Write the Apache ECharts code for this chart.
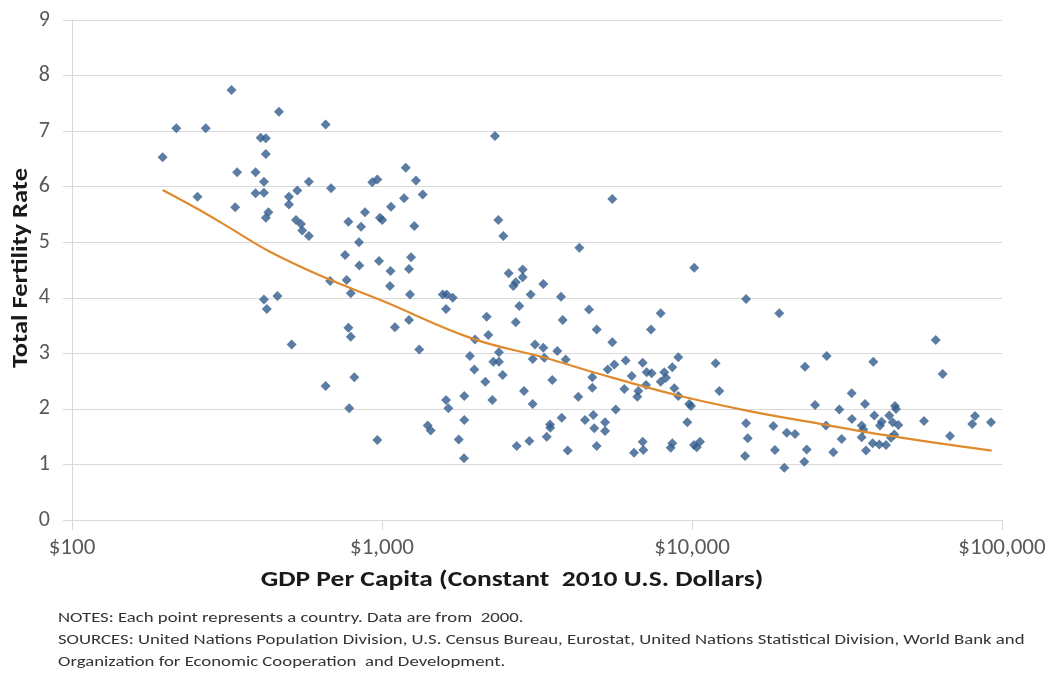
<!DOCTYPE html>
<html>
<head>
<meta charset="utf-8">
<script src="https://cdn.jsdelivr.net/npm/echarts@6/dist/echarts.min.js"></script>
<style>
html,body{margin:0;padding:0;background:#fff;}
#chart{width:1052px;height:673px;}
</style>
</head>
<body>
<div id="chart"></div>
<script>
// [GDP per capita (constant 2010 US$), total fertility rate]
var countries = [
 [327,7.74],[217,7.05],[270,7.05],[465,7.35],[658,7.12],[196,6.53],[406,6.88],[422,6.87],[422,6.59],[341,6.26],
 [391,6.26],[416,6.09],[391,5.88],[416,5.89],[254,5.82],[336,5.63],[581,6.09],[685,5.97],[533,5.93],[501,5.82],
 [501,5.68],[430,5.54],[422,5.44],[528,5.40],[548,5.33],[553,5.21],[581,5.11],[930,6.08],[966,6.13],[1069,5.64],
 [985,5.44],[1002,5.40],[779,5.37],[881,5.54],[856,5.28],[843,5.00],[760,4.77],[978,4.66],[845,4.58],[1065,4.48],
 [680,4.30],[769,4.32],[793,4.08],[1061,4.21],[416,3.97],[460,4.03],[425,3.80],
 [779,3.46],[793,3.30],[511,3.16],[814,2.57],[658,2.41],[784,2.01],[966,1.44],
 [2314,6.91],[1193,6.34],[1287,6.11],[1353,5.86],[1178,5.79],[1271,5.29],[5534,5.78],[2372,5.40],[2462,5.11],[4330,4.90],
 [1241,4.73],[1222,4.52],[1231,4.06],[1570,4.06],[1617,4.06],[1691,4.00],[1609,3.80],[1222,3.60],[1101,3.47],[2176,3.66],
 [2700,3.56],[2563,4.44],[2844,4.51],[2844,4.37],[2700,4.28],[2652,4.21],[3314,4.25],[3018,4.06],[2773,3.85],[3779,4.02],
 [4653,3.79],[3827,3.60],[4927,3.43],
 [1319,3.07],[1995,3.25],[2203,3.33],[5534,3.20],[1922,2.95],[1985,2.71],[2384,3.02],[2286,2.85],[2384,2.85],[2451,2.61],
 [2154,2.49],[2269,2.16],[1843,2.23],[1609,2.16],[1637,2.01],[3116,3.16],[3314,3.10],[3677,3.04],[3063,2.90],[3339,2.92],
 [3913,2.89],[3543,2.52],[2871,2.32],[3063,2.09],[4297,2.22],[4769,2.57],[4769,2.38],[5348,2.71],[5617,2.80],[6111,2.87],
 [6048,2.36],[5675,1.99],[3799,1.84],[4516,1.80],[4804,1.89],[4839,1.65],[5242,1.76],[5242,1.60],[4927,1.33],[3483,1.72],
 [3490,1.66],[3399,1.50],[2987,1.42],[2720,1.33],[3972,1.25],[1404,1.70],[1436,1.61],[1843,1.80],[1768,1.45],[1839,1.11],
 [10170,4.54],[14940,3.98],[19120,3.72],[7925,3.72],[7373,3.43],[6934,2.83],[6391,2.59],[7143,2.66],[7413,2.64],[6712,2.32],
 [6661,2.22],[7105,2.43],[8139,2.66],[8243,2.56],[7925,2.49],[8640,2.75],[9033,2.93],[8768,2.37],[9033,2.23],[9800,2.09],
 [9926,2.05],[11920,2.82],[12250,2.32],[9656,1.76],[6934,1.41],[6965,1.26],[6501,1.21],[8640,1.38],[8537,1.30],[10150,1.35],
 [10360,1.31],[10610,1.41],[14940,1.74],[15130,1.47],[14830,1.15],[18290,1.69],[20210,1.57],[21490,1.55],[18520,1.26],[19850,0.94],
 [23440,1.27],[23030,1.05],[23150,2.76],[24940,2.07],
 [61110,3.24],[64370,2.63],[27190,2.95],[38440,2.85],[32740,2.28],[29870,1.99],[36140,2.09],[32810,1.82],[35270,1.70],[35690,1.63],
 [38730,1.88],[40410,1.70],[40910,1.77],[43290,1.88],[45160,2.05],[45500,2.00],[44390,1.76],[46300,1.71],[27050,1.70],[30400,1.46],
 [35270,1.49],[43850,1.48],[44930,1.54],[38270,1.38],[40200,1.36],[42250,1.35],[28570,1.22],[36410,1.25],[56020,1.78],[67970,1.51],
 [81810,1.87],[80190,1.73],[92150,1.76]
];
// trend line points
var trendGdp = [196,252,316,435,663,998,1970,3314,4804,9033,15020,25880,39430,64650,92650];
var trendTfr = [5.94,5.61,5.29,4.83,4.35,3.95,3.26,2.93,2.66,2.24,1.97,1.73,1.55,1.37,1.25];
var yTicks = [0,1,2,3,4,5,6,7,8,9];
var xTicks = [100,1000,10000,100000];
var xTitle = 'GDP Per Capita (Constant  2010 U.S. Dollars)';
var yTitle = 'Total Fertility Rate';
var notes = [
 'NOTES: Each point represents a country. Data are from  2000.',
 'SOURCES: United Nations Population Division, U.S. Census Bureau, Eurostat, United Nations Statistical Division, World Bank and',
 'Organization for Economic Cooperation  and Development.'
];

var FONT = "Carlito, Calibri, 'Open Sans', sans-serif";
var chart = echarts.init(document.getElementById('chart'));
var trend = trendGdp.map(function(g,i){return [g, trendTfr[i]];});
chart.setOption({
  animation:false,
  backgroundColor:'#fff',
  grid:{left:72,right:50,top:20,bottom:153,containLabel:false},
  xAxis:{
    type:'log', logBase:10, min:xTicks[0], max:xTicks[xTicks.length-1],
    axisLine:{show:true,lineStyle:{color:'#d9d9d9',width:1}},
    axisTick:{show:true,length:10,lineStyle:{color:'#d9d9d9'}},
    splitLine:{show:false},
    axisLabel:{fontFamily:FONT,fontSize:23,color:'#595959',margin:17,
      formatter:function(v){return '$'+Math.round(v).toLocaleString('en-US');}}
  },
  yAxis:{
    type:'value', min:yTicks[0], max:yTicks[yTicks.length-1], interval:1,
    axisLine:{show:true,lineStyle:{color:'#d9d9d9'}},
    axisTick:{show:true,length:9,lineStyle:{color:'#d9d9d9'}},
    splitLine:{show:true,lineStyle:{color:'#d9d9d9',width:1}},
    axisLabel:{fontFamily:FONT,fontSize:22,color:'#595959',margin:22}
  },
  series:[
    {type:'scatter',data:countries,symbol:'diamond',symbolSize:10,
     itemStyle:{color:'#335C8C'},z:2},
    {type:'line',data:trend,smooth:0.4,showSymbol:false,symbol:'none',
     lineStyle:{color:'#E08A2E',width:2.2},z:3}
  ],
  graphic:[
    {type:'text',x:512,y:580,scaleX:1.25,style:{text:xTitle,fontFamily:FONT,fontSize:22,fontWeight:'bold',fill:'#1a1a1a',
      textAlign:'center',textVerticalAlign:'middle'}},
    {type:'text',x:21,y:268,rotation:Math.PI/2,scaleX:1.15,style:{text:yTitle,fontFamily:FONT,fontSize:23,fontWeight:'bold',fill:'#1a1a1a',
      textAlign:'center',textVerticalAlign:'middle'}},
    {type:'text',x:58,y:618,scaleX:1.25,style:{text:notes[0],fontFamily:FONT,fontSize:15,fill:'#333',textVerticalAlign:'middle'}},
    {type:'text',x:58,y:640,scaleX:1.25,style:{text:notes[1],fontFamily:FONT,fontSize:15,fill:'#333',textVerticalAlign:'middle'}},
    {type:'text',x:58,y:662,scaleX:1.25,style:{text:notes[2],fontFamily:FONT,fontSize:15,fill:'#333',textVerticalAlign:'middle'}}
  ]
});
</script>
</body>
</html>
